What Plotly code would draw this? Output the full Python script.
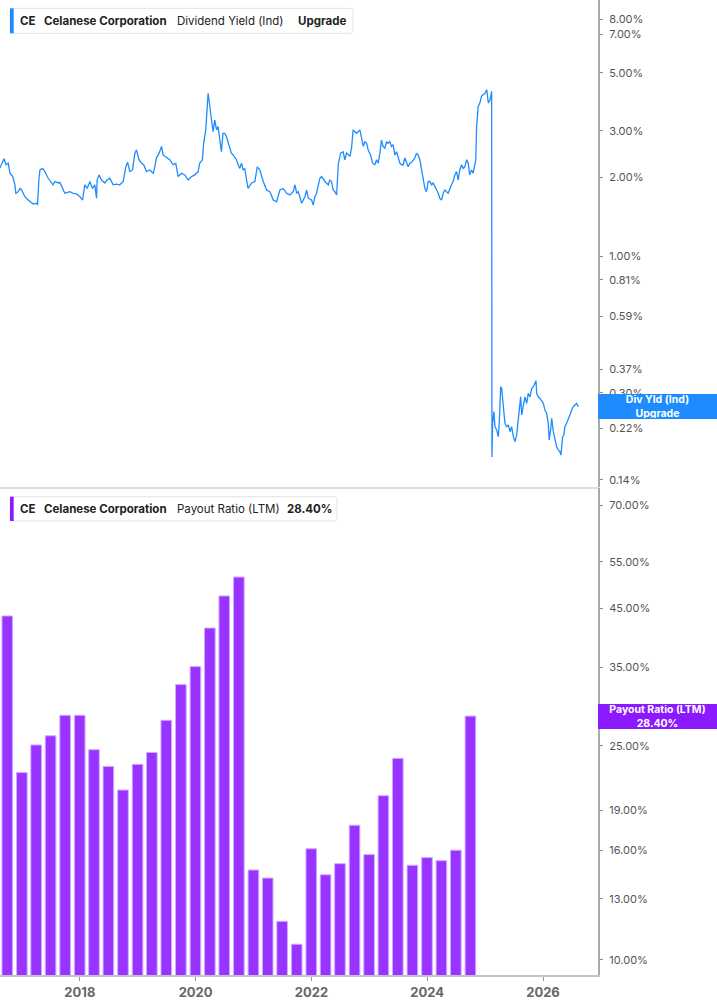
import math
import plotly.graph_objects as go

# ---------------- data ----------------
yield_dates = [
    "2016-08-15", "2016-09-09", "2016-09-22", "2016-10-06", "2016-10-17", "2016-11-03", "2016-11-17", "2016-11-23",
    "2016-12-08", "2016-12-19", "2016-12-29", "2017-01-08", "2017-01-19", "2017-02-09", "2017-03-02", "2017-03-12",
    "2017-04-03", "2017-04-09", "2017-04-17", "2017-04-24", "2017-05-11", "2017-05-25", "2017-06-15", "2017-07-06",
    "2017-07-16", "2017-07-27", "2017-08-17", "2017-08-28", "2017-09-08", "2017-09-28", "2017-10-09", "2017-10-30",
    "2017-11-20", "2017-12-11", "2018-01-01", "2018-01-18", "2018-02-01", "2018-02-16", "2018-03-05", "2018-03-22",
    "2018-04-05", "2018-04-16", "2018-04-20", "2018-05-02", "2018-05-18", "2018-06-07", "2018-06-22", "2018-07-09",
    "2018-07-30", "2018-08-20", "2018-09-10", "2018-10-01", "2018-10-18", "2018-10-29", "2018-11-12", "2018-11-29",
    "2018-12-14", "2018-12-24", "2019-01-09", "2019-01-25", "2019-02-08", "2019-02-25", "2019-03-18", "2019-04-08",
    "2019-04-19", "2019-04-29", "2019-05-16", "2019-05-31", "2019-06-10", "2019-07-01", "2019-07-22", "2019-08-12",
    "2019-08-29", "2019-09-13", "2019-10-04", "2019-10-25", "2019-11-15", "2019-12-06", "2019-12-27", "2020-01-17",
    "2020-01-27", "2020-02-13", "2020-02-21", "2020-03-05", "2020-03-13", "2020-03-20", "2020-03-31", "2020-04-10",
    "2020-04-20", "2020-05-01", "2020-05-12", "2020-05-22", "2020-06-02", "2020-06-12", "2020-06-22", "2020-07-03",
    "2020-07-14", "2020-08-04", "2020-08-14", "2020-08-25", "2020-09-15", "2020-09-25", "2020-10-06", "2020-10-17",
    "2020-10-27", "2020-11-06", "2020-11-17", "2020-11-27", "2020-12-19", "2021-01-09", "2021-01-24", "2021-02-10",
    "2021-03-03", "2021-03-24", "2021-04-14", "2021-05-05", "2021-05-26", "2021-06-16", "2021-07-07", "2021-07-28",
    "2021-08-18", "2021-09-08", "2021-09-19", "2021-09-30", "2021-10-10", "2021-10-31", "2021-11-21", "2021-12-02",
    "2021-12-12", "2022-01-02", "2022-01-12", "2022-01-23", "2022-02-02", "2022-02-23", "2022-03-06", "2022-03-27",
    "2022-04-17", "2022-04-27", "2022-05-08", "2022-05-18", "2022-05-29", "2022-06-09", "2022-06-19", "2022-07-04",
    "2022-07-20", "2022-07-31", "2022-08-11", "2022-09-01", "2022-09-11", "2022-09-21", "2022-10-02", "2022-10-13",
    "2022-11-03", "2022-11-13", "2022-11-24", "2022-12-04", "2022-12-15", "2022-12-25", "2023-01-09", "2023-01-22",
    "2023-02-05", "2023-02-16", "2023-02-26", "2023-03-09", "2023-03-19", "2023-03-29", "2023-04-09", "2023-04-20",
    "2023-04-30", "2023-05-11", "2023-05-21", "2023-05-31", "2023-06-11", "2023-06-22", "2023-07-02", "2023-07-13",
    "2023-07-23", "2023-08-03", "2023-08-13", "2023-08-24", "2023-09-03", "2023-09-14", "2023-09-25", "2023-10-16",
    "2023-10-26", "2023-11-05", "2023-11-16", "2023-11-27", "2023-12-07", "2023-12-18", "2023-12-28", "2024-01-08",
    "2024-01-18", "2024-01-29", "2024-02-08", "2024-02-19", "2024-03-01", "2024-03-11", "2024-03-21", "2024-04-01",
    "2024-04-11", "2024-04-22", "2024-05-02", "2024-05-12", "2024-06-03", "2024-06-13", "2024-06-24", "2024-07-04",
    "2024-07-15", "2024-07-25", "2024-08-05", "2024-08-15", "2024-08-26", "2024-09-06", "2024-09-16", "2024-09-26",
    "2024-10-07", "2024-10-17", "2024-10-28", "2024-11-03", "2024-11-08", "2024-11-18", "2024-11-29", "2024-12-09",
    "2024-12-19", "2024-12-31", "2025-01-11", "2025-01-21", "2025-02-01", "2025-02-11", "2025-02-13", "2025-02-17",
    "2025-02-25", "2025-03-04", "2025-03-15", "2025-03-25", "2025-03-31", "2025-04-09", "2025-04-15", "2025-04-25",
    "2025-05-06", "2025-05-17", "2025-05-27", "2025-06-07", "2025-06-17", "2025-06-28", "2025-07-08", "2025-07-19",
    "2025-07-29", "2025-08-04", "2025-08-13", "2025-08-20", "2025-08-30", "2025-09-09", "2025-09-20", "2025-09-30",
    "2025-10-11", "2025-10-22", "2025-11-01", "2025-11-12", "2025-11-18", "2025-11-22", "2025-12-02", "2025-12-13",
    "2025-12-24", "2026-01-03", "2026-01-13", "2026-01-24", "2026-02-03", "2026-02-09", "2026-02-18", "2026-02-25",
    "2026-03-07", "2026-03-17", "2026-03-28", "2026-04-07", "2026-04-18", "2026-04-24", "2026-04-29", "2026-05-05",
    "2026-05-13", "2026-05-19", "2026-05-30", "2026-06-09", "2026-06-20", "2026-07-01", "2026-07-11", "2026-07-22",
    "2026-08-01", "2026-08-11",
]
yield_values = [
    2.17, 2.35, 2.23, 2.26, 2.07, 2.01, 1.87, 1.735,
    1.76, 1.81, 1.786, 1.735, 1.684, 1.636, 1.60, 1.58,
    1.59, 1.565, 1.95, 2.13, 2.16, 2.10, 1.98, 1.90,
    1.87, 1.925, 1.90, 1.91, 1.85, 1.735, 1.745, 1.76,
    1.735, 1.725, 1.684, 1.636, 1.87, 1.81, 1.925, 1.81,
    1.87, 1.66, 1.95, 2.04, 1.95, 1.90, 1.95, 1.98,
    1.87, 1.88, 1.87, 1.925, 2.19, 2.28, 2.10, 2.13,
    2.47, 2.54, 2.33, 2.26, 2.23, 2.10, 2.13, 2.07,
    2.19, 2.37, 2.47, 2.62, 2.43, 2.37, 2.33, 2.23,
    2.26, 2.01, 2.07, 2.04, 1.95, 2.01, 2.04, 2.10,
    2.26, 2.33, 2.69, 3.03, 3.61, 4.18, 3.72, 3.40,
    2.98, 3.30, 3.03, 3.12, 2.77, 2.50, 2.94, 2.94,
    2.85, 2.62, 2.47, 2.43, 2.33, 2.23, 2.16, 2.26,
    2.13, 2.16, 1.95, 1.81, 1.90, 1.925, 2.19, 2.13,
    1.925, 1.786, 1.76, 1.636, 1.61, 1.786, 1.81, 1.735,
    1.71, 1.76, 1.87, 1.735, 1.76, 1.59, 1.684, 1.786,
    1.66, 1.636, 1.565, 1.684, 1.735, 1.98, 2.01, 1.925,
    1.87, 1.95, 1.925, 1.786, 1.76, 1.71, 2.23, 2.47,
    2.50, 2.33, 2.47, 2.40, 2.58, 3.03, 2.98, 2.94,
    3.03, 2.77, 2.62, 2.73, 2.69, 2.54, 2.43, 2.26,
    2.23, 2.33, 2.26, 2.47, 2.77, 2.62, 2.58, 2.73,
    2.69, 2.73, 2.62, 2.66, 2.43, 2.50, 2.40, 2.26,
    2.23, 2.23, 2.37, 2.26, 2.19, 2.26, 2.28, 2.37,
    2.47, 2.43, 2.33, 2.13, 1.98, 1.81, 1.76, 1.925,
    1.925, 1.87, 1.90, 1.85, 1.786, 1.735, 1.66, 1.636,
    1.735, 1.786, 1.76, 1.735, 1.87, 1.925, 2.04, 2.10,
    1.95, 2.13, 2.23, 2.16, 2.19, 2.33, 2.26, 2.04,
    2.13, 2.07, 2.23, 2.33, 3.12, 3.72, 3.84, 4.07,
    4.13, 4.18, 4.31, 3.84, 3.94, 4.25, 0.171, 0.230,
    0.2546, 0.2231, 0.2167, 0.2044, 0.230, 0.317, 0.3127, 0.266,
    0.230, 0.2231, 0.2264, 0.2135, 0.2231, 0.2044, 0.1956, 0.2075,
    0.2366, 0.251, 0.290, 0.2473, 0.270, 0.290, 0.274, 0.299,
    0.290, 0.3127, 0.317, 0.331, 0.334, 0.299, 0.290, 0.286,
    0.278, 0.274, 0.2584, 0.251, 0.230, 0.1985, 0.2167, 0.2402,
    0.2135, 0.1985, 0.1872, 0.1818, 0.179, 0.1737, 0.1845, 0.2044,
    0.2075, 0.2231, 0.230, 0.2402, 0.2473, 0.2584, 0.266, 0.270,
    0.274, 0.266,
]

payout_dates = [
    "2016-09-30", "2016-12-31",
    "2017-03-31", "2017-06-30", "2017-09-30", "2017-12-31",
    "2018-03-31", "2018-06-30", "2018-09-30", "2018-12-31",
    "2019-03-31", "2019-06-30", "2019-09-30", "2019-12-31",
    "2020-03-31", "2020-06-30", "2020-09-30", "2020-12-31",
    "2021-03-31", "2021-06-30", "2021-09-30", "2021-12-31",
    "2022-03-31", "2022-06-30", "2022-09-30", "2022-12-31",
    "2023-03-31", "2023-06-30", "2023-09-30", "2023-12-31",
    "2024-03-31", "2024-06-30", "2024-09-30",
]
payout_values = [
    43.6, 22.3,
    25.1, 26.1, 28.5, 28.5,
    24.6, 22.9, 20.7, 23.1,
    24.3, 27.9, 32.5, 35.1,
    41.4, 47.5, 51.5, 14.7,
    14.2, 11.8, 10.7, 16.1,
    14.4, 15.1, 17.8, 15.7,
    20.2, 23.7, 15.0, 15.5,
    15.3, 16.0, 28.40,
]

top_tick_values = [8, 7, 5, 3, 2, 1, 0.81, 0.59, 0.37, 0.30, 0.22, 0.14]
top_tick_labels = ["8.00%", "7.00%", "5.00%", "3.00%", "2.00%", "1.00%", "0.81%",
                   "0.59%", "0.37%", "0.30%", "0.22%", "0.14%"]
bottom_tick_values = [70, 55, 45, 35, 25, 19, 16, 13, 10]
bottom_tick_labels = ["70.00%", "55.00%", "45.00%", "35.00%", "25.00%", "19.00%",
                      "16.00%", "13.00%", "10.00%"]
year_tick_dates = ["2018-01-01", "2020-01-01", "2022-01-01", "2024-01-01", "2026-01-01"]
year_tick_labels = ["2018", "2020", "2022", "2024", "2026"]

ticker = "CE"
company = "Celanese Corporation"
top_metric = "Dividend Yield (Ind)"
top_status = "Upgrade"
bottom_metric = "Payout Ratio (LTM)"

# ---------------- layout geometry ----------------
W, H = 717, 1005
ML, MR, MT, MB = 0, 119, 0, 30
PW = W - ML - MR
PH = H - MT - MB

BLUE = "#1E8CFF"
PURPLE = "#8C1AFF"
FONT = "Inter"


def px(x):
    return x / PW


def py(y):
    return (PH - y) / PH


def rounded_rect(x0, y0, x1, y1, r):
    rx, ry = r / PW, r / PH
    a, b, c, d = px(x0), px(x1), py(y0), py(y1)
    return (f"M {a+rx},{c} L {b-rx},{c} Q {b},{c} {b},{c-ry} "
            f"L {b},{d+ry} Q {b},{d} {b-rx},{d} L {a+rx},{d} "
            f"Q {a},{d} {a},{d+ry} L {a},{c-ry} Q {a},{c} {a+rx},{c} Z")


fig = go.Figure()
fig.add_trace(go.Scatter(
    x=yield_dates, y=yield_values, mode="lines",
    line=dict(color=BLUE, width=1.3),
    xaxis="x", yaxis="y", hoverinfo="skip",
))
fig.add_trace(go.Bar(
    x=payout_dates, y=payout_values,
    marker=dict(color="#9933FF", line=dict(color="#D2ABFF", width=1)),
    width=5.8e9, xaxis="x2", yaxis="y2", hoverinfo="skip",
))

x_range = ["2016-08-15", "2026-12-14"]
tick_font = dict(family=FONT, size=11, color="#555555")

shapes = []
annotations = []


def legend(y0, y1, x1, color, items, ytext):
    shapes.append(dict(type="path", xref="paper", yref="paper",
                       path=rounded_rect(10, y0, x1, y1, 3),
                       fillcolor="white", line=dict(color="#E3E3E3", width=1), layer="above"))
    shapes.append(dict(type="rect", xref="paper", yref="paper",
                       x0=px(10), x1=px(13.7), y0=py(y1), y1=py(y0),
                       fillcolor=color, line=dict(width=0), layer="above"))
    for text, x, bold in items:
        annotations.append(dict(
            text=text, xref="paper", yref="paper", x=px(x), y=py(ytext),
            xanchor="left", yanchor="middle", showarrow=False,
            borderpad=0, borderwidth=0,
            font=dict(family=FONT, size=11.5, color="#222222",
                      weight="bold" if bold else "normal"),
        ))


legend(8.3, 33.3, 353, BLUE,
       [(ticker, 20, True), (company, 44, True), (top_metric, 177, False), (top_status, 298, True)],
       20.7)
last_payout_text = f"{payout_values[-1]:.2f}%"
legend(496.7, 521, 337, PURPLE,
       [(ticker, 20, True), (company, 44, True), (bottom_metric, 177, False), (last_payout_text, 287, True)],
       509)

annotations.append(dict(
    text="Div Yld (Ind)<br>" + top_status, xref="paper", yref="y",
    x=1.0, y=math.log10(yield_values[-1]), xanchor="left", yanchor="middle",
    showarrow=False, bgcolor=BLUE, borderpad=1, borderwidth=0, width=117, height=23,
    align="center", font=dict(family=FONT, size=10.5, color="white", weight="bold"),
))
annotations.append(dict(
    text=bottom_metric + "<br>" + last_payout_text, xref="paper", yref="y2",
    x=1.0, y=math.log10(payout_values[-1]), xanchor="left", yanchor="middle",
    showarrow=False, bgcolor=PURPLE, borderpad=1, borderwidth=0, width=117, height=23,
    align="center", font=dict(family=FONT, size=10.5, color="white", weight="bold"),
))

yaxis_common = dict(
    type="log", side="right", showline=True, linecolor="#AAAAAA", linewidth=2,
    ticks="outside", ticklen=3, tickcolor="#888888", tickwidth=1,
    showgrid=False, zeroline=False, tickfont=tick_font, ticklabelstandoff=4,
)

fig.update_layout(
    width=W, height=H,
    margin=dict(l=ML, r=MR, t=MT, b=MB, pad=0),
    paper_bgcolor="white", plot_bgcolor="white",
    showlegend=False, hovermode=False, bargap=0,
    font=dict(family=FONT),
    xaxis=dict(domain=[0, 1], anchor="y", range=x_range, type="date",
               showticklabels=False, ticks="", showgrid=False, zeroline=False,
               showline=True, linecolor="#DDDDDD", linewidth=2),
    xaxis2=dict(domain=[0, 1], anchor="y2", range=x_range, type="date",
                tickvals=year_tick_dates, ticktext=year_tick_labels,
                ticks="outside", ticklen=4, tickcolor="#999999",
                showgrid=False, zeroline=False,
                showline=True, linecolor="#C4C4C4", linewidth=2,
                tickfont=dict(family=FONT, size=13, color="#666666", weight="bold")),
    yaxis=dict(domain=[py(487), 1], anchor="x",
               range=[-0.8817, 0.9771],
               tickvals=top_tick_values, ticktext=top_tick_labels, **yaxis_common),
    yaxis2=dict(domain=[0, py(488)], anchor="x2",
                range=[0.9721, 1.8773],
                tickvals=bottom_tick_values, ticktext=bottom_tick_labels, **yaxis_common),
    shapes=shapes,
    annotations=annotations,
)

fig.write_html("out.html",
               config={"displayModeBar": False, "staticPlot": True},
               post_script="document.body.style.margin='0';document.body.style.padding='0';")
